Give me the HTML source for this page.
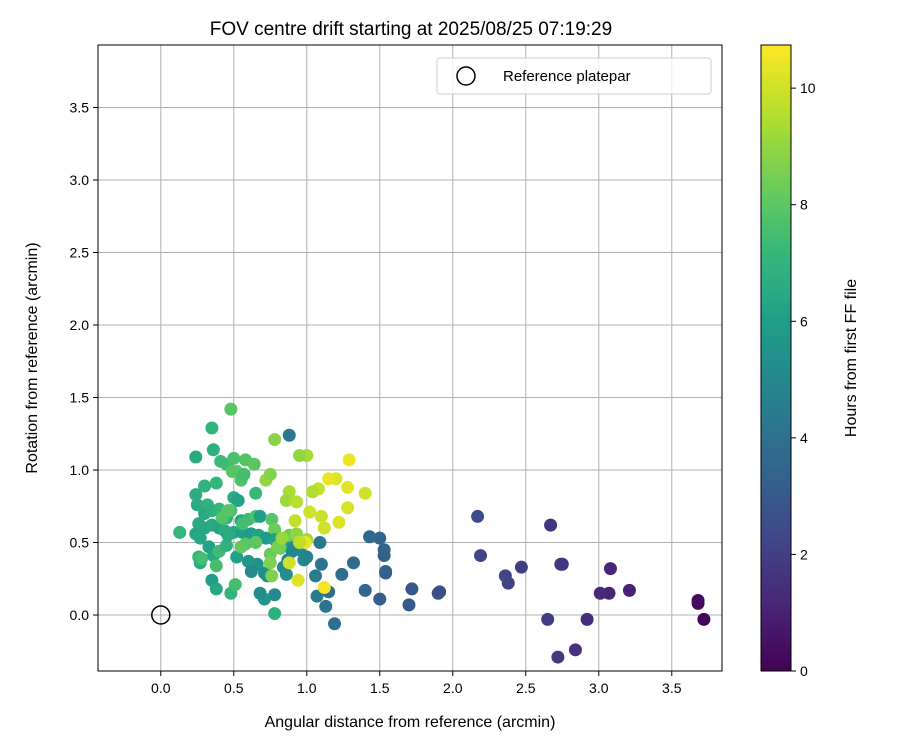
<!DOCTYPE html>
<html><head><meta charset="utf-8"><style>body{margin:0;background:#fff}svg text{font-family:"Liberation Sans",sans-serif}</style></head>
<body>
<svg id="c" width="900" height="750" xmlns="http://www.w3.org/2000/svg"></svg>
<script>
const xTicks=[0,0.5,1,1.5,2,2.5,3,3.5];
const yTicks=[0,0.5,1,1.5,2,2.5,3,3.5];
const cTicks=[0,2,4,6,8,10];
const xs=[3.72,3.68,3.68,3.21,3.08,3.07,3.01,2.92,2.84,2.75,2.74,2.72,2.67,2.65,2.47,2.38,2.36,2.19,2.17,1.91,1.90,1.72,1.70,1.54,1.54,1.53,1.53,1.50,1.50,1.43,1.40,1.32,1.24,1.19,1.15,1.13,1.10,1.09,1.07,1.06,
0.48,0.35,0.24,0.36,0.88,0.45,0.41,0.50,0.58,0.64,0.52,0.49,0.55,0.57,0.30,0.38,0.24,0.25,0.32,0.50,0.53,0.65,0.30,0.35,0.40,0.48,0.45,0.55,0.60,0.65,0.68,0.76,0.78,0.26,0.30,0.35,0.40,0.44,0.50,0.56,0.62,0.67,0.72,0.78,0.85,0.90,0.95,0.98,1.00,0.13,0.24,0.27,0.33,0.36,0.40,0.45,0.52,0.58,0.60,0.66,0.71,0.73,0.76,0.78,0.78,0.71,0.68,0.62,0.82,0.84,0.86,0.87,0.90,0.93,0.26,0.27,0.28,0.35,0.38,0.38,0.48,0.51,0.46,0.42,0.46,0.56,0.65,0.75,0.80,0.88,0.93,1.00,0.75,0.55,
1.29,1.28,1.40,1.28,1.20,1.15,1.08,1.04,1.10,1.12,1.22,1.02,1.00,0.95,0.78,0.99,1.12,0.94,0.88,0.88,0.86,0.93,0.92,0.95,0.83,0.72,0.75];
const ys=[-0.03,0.08,0.10,0.17,0.32,0.15,0.15,-0.03,-0.24,0.35,0.35,-0.29,0.62,-0.03,0.33,0.22,0.27,0.41,0.68,0.16,0.15,0.18,0.07,0.29,0.30,0.41,0.45,0.53,0.11,0.54,0.17,0.36,0.28,-0.06,0.16,0.06,0.35,0.50,0.13,0.27,
1.42,1.29,1.09,1.14,1.24,1.04,1.06,1.08,1.07,1.04,0.99,0.99,0.93,0.97,0.89,0.91,0.83,0.76,0.76,0.81,0.79,0.84,0.70,0.72,0.73,0.72,0.67,0.65,0.66,0.68,0.68,0.66,0.59,0.63,0.60,0.62,0.60,0.58,0.57,0.57,0.56,0.55,0.53,0.52,0.50,0.48,0.45,0.38,0.40,0.57,0.56,0.53,0.47,0.41,0.44,0.48,0.40,0.49,0.37,0.35,0.29,0.27,0.27,0.14,0.01,0.11,0.15,0.30,0.46,0.33,0.28,0.38,0.44,0.52,0.40,0.36,0.39,0.24,0.34,0.18,0.15,0.21,0.55,0.67,0.72,0.63,0.50,0.42,0.47,0.55,0.56,0.52,0.36,0.47,
1.07,0.88,0.84,0.74,0.94,0.94,0.87,0.85,0.68,0.60,0.64,0.71,1.10,1.10,1.21,0.50,0.19,0.24,0.36,0.85,0.79,0.78,0.65,0.50,0.53,0.93,0.97];
const hours=[0.1,0.2,0.3,1.0,1.2,1.1,1.3,1.4,1.5,1.6,1.7,1.8,1.6,1.9,2.0,2.1,2.2,2.2,2.3,2.6,2.6,2.9,3.0,3.3,3.3,3.4,3.4,3.5,3.2,3.6,3.5,3.7,3.8,4.0,3.9,4.1,4.2,4.3,4.4,4.5,
7.9,7.0,6.5,6.8,4.3,7.4,7.3,7.6,7.8,8.0,8.0,7.9,7.7,7.5,6.9,7.1,6.7,6.6,6.9,6.6,6.2,7.2,6.5,6.8,7.0,7.6,6.8,6.3,7.3,7.7,6.0,7.9,8.3,6.6,6.4,6.5,6.3,6.6,6.4,6.0,5.8,6.2,5.8,6.0,6.1,5.5,5.2,5.0,4.8,7.1,6.3,6.4,6.2,6.5,7.4,6.9,6.0,7.9,5.7,5.5,5.3,5.4,8.6,5.1,6.8,5.6,5.2,5.1,8.3,5.0,5.3,4.8,5.0,5.2,7.0,6.6,7.5,6.0,7.5,6.4,7.0,7.5,6.6,7.8,7.9,7.5,8.0,8.2,8.5,8.4,8.9,9.2,8.6,8.1,
10.5,10.3,10.0,10.1,10.2,10.4,9.8,9.5,9.9,10.0,10.2,10.0,9.3,9.0,8.8,10.4,10.6,10.2,10.0,9.4,9.2,9.6,9.8,9.7,9.1,9.0,8.7];
const NS="http://www.w3.org/2000/svg",svg=document.getElementById('c');
function mk(t,a,p){const e=document.createElementNS(NS,t);for(const k in a)e.setAttribute(k,a[k]);(p||svg).appendChild(e);return e;}
const L=98,R=722,T=45,B=671,X0=-0.43,X1=3.844,Y0=-0.386,Y1=3.931,CMAX=10.74;
const sx=v=>L+(v-X0)/(X1-X0)*(R-L), sy=v=>B-(v-Y0)/(Y1-Y0)*(B-T);
const V=[[68,1,84],[72,40,120],[62,74,137],[49,104,142],[38,130,142],[31,158,137],[53,183,121],[109,205,89],[180,222,44],[253,231,37]];
function vir(t){t=Math.max(0,Math.min(1,t))*9;const i=Math.min(8,Math.floor(t)),f=t-i;const c=V[i].map((a,j)=>Math.round(a+(V[i+1][j]-a)*f));return`rgb(${c})`;}
const g=mk('g',{});
xTicks.forEach(v=>{mk('line',{x1:sx(v),x2:sx(v),y1:T,y2:B,stroke:'#b0b0b0','stroke-width':1},g);mk('line',{x1:sx(v),x2:sx(v),y1:B,y2:B+5,stroke:'#000'});
const t=mk('text',{x:sx(v),y:B+22,'font-size':14,'text-anchor':'middle'});t.textContent=v.toFixed(1);});
yTicks.forEach(v=>{mk('line',{x1:L,x2:R,y1:sy(v),y2:sy(v),stroke:'#b0b0b0','stroke-width':1},g);mk('line',{x1:L-5,x2:L,y1:sy(v),y2:sy(v),stroke:'#000'});
const t=mk('text',{x:L-9,y:sy(v)+5,'font-size':14,'text-anchor':'end'});t.textContent=v.toFixed(1);});
const pts=mk('g',{});
xs.forEach((x,i)=>{const c=mk('circle',{cx:sx(x),cy:sy(ys[i]),r:6.5,fill:vir(hours[i]/CMAX)},pts);});
const ref=mk('circle',{cx:sx(0),cy:sy(0),r:9,fill:'none',stroke:'#000','stroke-width':1.5});
mk('rect',{x:L,y:T,width:R-L,height:B-T,fill:'none',stroke:'#000','stroke-width':1});
const lg=mk('g',{});
mk('rect',{x:437,y:58,width:274,height:36,rx:3,fill:'#fff','fill-opacity':0.8,stroke:'#ccc'},lg);
mk('circle',{cx:466,cy:76,r:9,fill:'none',stroke:'#000','stroke-width':1.5},lg);
mk('text',{x:503,y:81,'font-size':15},lg).textContent='Reference platepar';
const tt=mk('text',{x:411,y:35,'font-size':19,'text-anchor':'middle'});tt.textContent='FOV centre drift starting at 2025/08/25 07:19:29';
const xl=mk('text',{x:410,y:727,'font-size':16,'text-anchor':'middle'});xl.textContent='Angular distance from reference (arcmin)';
const yl=mk('text',{x:0,y:0,'font-size':16,'text-anchor':'middle',transform:`translate(37,358) rotate(-90)`});yl.textContent='Rotation from reference (arcmin)';
const defs=mk('defs',{});const lgr=mk('linearGradient',{id:'vg',x1:0,y1:1,x2:0,y2:0},defs);
V.forEach((c,i)=>mk('stop',{offset:i/9,'stop-color':`rgb(${c})`},lgr));
const cb=mk('rect',{x:761,y:T,width:30,height:B-T,fill:'url(#vg)',stroke:'#000','stroke-width':1});
cTicks.forEach(v=>{const y=B-v/CMAX*(B-T);mk('line',{x1:791,x2:796,y1:y,y2:y,stroke:'#000'});const t=mk('text',{x:800,y:y+5,'font-size':14});t.textContent=v;});
const cl=mk('text',{x:0,y:0,'font-size':16,'text-anchor':'middle',transform:`translate(856,358) rotate(-90)`});cl.textContent='Hours from first FF file';
</script>
</body></html>
